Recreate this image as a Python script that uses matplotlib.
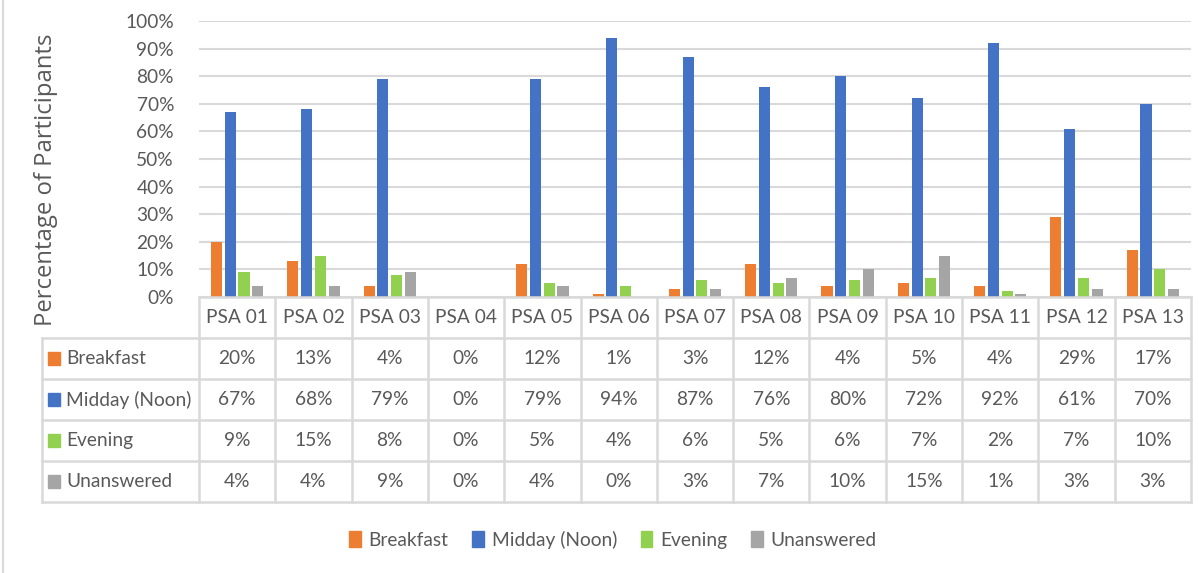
import matplotlib
matplotlib.use("Agg")
import matplotlib.pyplot as plt
from matplotlib.ticker import PercentFormatter, MultipleLocator
from matplotlib.patches import Rectangle
import numpy as np

plt.rcParams['font.family'] = ['Lato', 'DejaVu Sans']

categories = ["PSA 01", "PSA 02", "PSA 03", "PSA 04", "PSA 05", "PSA 06", "PSA 07",
              "PSA 08", "PSA 09", "PSA 10", "PSA 11", "PSA 12", "PSA 13"]
breakfast = [20, 13, 4, 0, 12, 1, 3, 12, 4, 5, 4, 29, 17]
midday = [67, 68, 79, 0, 79, 94, 87, 76, 80, 72, 92, 61, 70]
evening = [9, 15, 8, 0, 5, 4, 6, 5, 6, 7, 2, 7, 10]
unanswered = [4, 4, 9, 0, 4, 0, 3, 7, 10, 15, 1, 3, 3]
series_names = ["Breakfast", "Midday (Noon)", "Evening", "Unanswered"]
colors = ["#ED7D31", "#4472C4", "#92D050", "#A5A5A5"]

series = [breakfast, midday, evening, unanswered]
W, H = 1203, 573
TXT = "#595959"
GRID = "#D9D9D9"
FS = 13.8

fig = plt.figure(figsize=(W / 100, H / 100), dpi=100)

# plot area in pixels
L, R, T, B = 199, 1191, 21, 297
ax = fig.add_axes([L / W, 1 - B / H, (R - L) / W, (B - T) / H])
n = len(categories)
x = np.arange(n)
step = 0.18
bw = 0.145
for i, (vals, c) in enumerate(zip(series, colors)):
    ax.bar(x + (i - 1.5) * step, np.array(vals) / 100.0, width=bw, color=c, zorder=3)
ax.set_xlim(-0.5, n - 0.5)
ax.set_ylim(0, 1)
ax.yaxis.set_major_locator(MultipleLocator(0.1))
ax.yaxis.set_major_formatter(PercentFormatter(1.0, decimals=0))
ax.grid(axis='y', color=GRID, linewidth=1.5, zorder=0)
for s in ax.spines.values():
    s.set_visible(False)
ax.tick_params(axis='y', length=0, pad=18, labelsize=FS, labelcolor=TXT)
ax.set_xticks([])

fig.text(46 / W, 1 - 180 / H, "Percentage of Participants", rotation=90,
         ha='center', va='center', fontsize=17.2, color=TXT,
         family=['Open Sans', 'DejaVu Sans'])

# data table
TL, TB = 42, 502
cw = (R - L) / n
lab_w = (L - TL) / cw
tax = fig.add_axes([TL / W, 1 - TB / H, (R - TL) / W, (TB - B) / H])
left_edge = -0.5 - lab_w
tax.set_xlim(left_edge, n - 0.5)
tax.set_ylim(5, 0)
tax.axis('off')
lk = dict(color=GRID, linewidth=1.8, clip_on=False, solid_capstyle='projecting')
# horizontal lines
tax.plot([-0.5, n - 0.5], [0, 0], **lk)
for r in range(1, 6):
    tax.plot([left_edge, n - 0.5], [r, r], **lk)
# vertical lines
tax.plot([left_edge, left_edge], [1, 5], **lk)
for j in range(n + 1):
    tax.plot([j - 0.5, j - 0.5], [0, 5], **lk)
# header
for j, c in enumerate(categories):
    tax.text(j, 0.5, c, ha='center', va='center', fontsize=FS, color=TXT)
# rows
for i, (name, vals, c) in enumerate(zip(series_names, series, colors)):
    yy = i + 1.5
    sq_w = 12 / cw
    tax.add_patch(Rectangle((left_edge + 6 / cw, yy - 0.15), sq_w, 0.3, color=c, clip_on=False))
    tax.text(left_edge + 24 / cw, yy, name, ha='left', va='center', fontsize=FS, color=TXT)
    for j, v in enumerate(vals):
        tax.text(j, yy, f"{v}%", ha='center', va='center', fontsize=FS, color=TXT)

# legend
handles = [Rectangle((0, 0), 1, 1, color=c) for c in colors]
fig.legend(handles, series_names, loc='center', bbox_to_anchor=(613 / W, 1 - 540 / H),
           ncol=4, frameon=False, fontsize=FS, labelcolor=TXT, handlelength=0.6,
           handleheight=0.9, handletextpad=0.4, columnspacing=1.25)

# left frame line
fig.add_artist(plt.Line2D([2.5 / W, 2.5 / W], [0, 1], color=GRID, linewidth=1.5))

fig.savefig("out.png", dpi=100, facecolor="white")
